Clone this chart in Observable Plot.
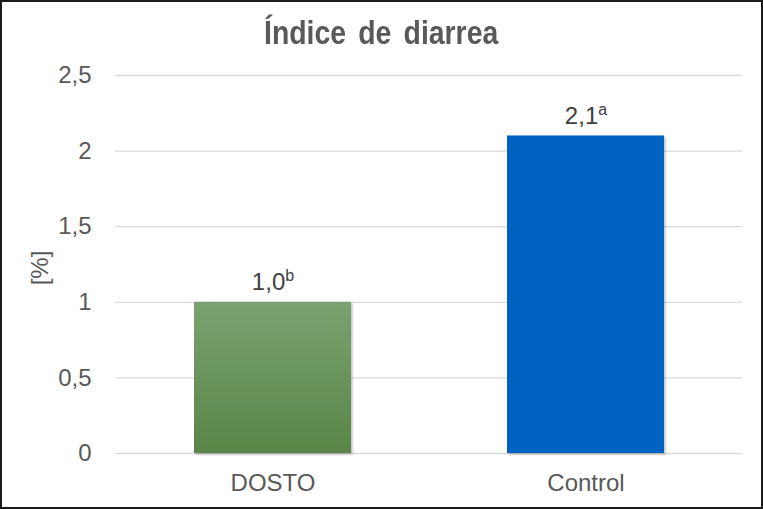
<!DOCTYPE html>
<html>
<head>
<meta charset="utf-8">
<script src="https://cdn.jsdelivr.net/npm/d3@7"></script>
<script src="https://cdn.jsdelivr.net/npm/@observablehq/plot@0.6"></script>
<style>
  html, body { margin: 0; padding: 0; background: #fff; }
  #frame {
    position: relative; width: 763px; height: 509px; box-sizing: border-box;
    border: 2px solid #1a1a1a; background: #fff; overflow: hidden;
  }
  #title {
    position: absolute; left: 0; right: 0; top: 13px; text-align: center;
    font-family: "Liberation Sans", Arial, sans-serif;
    font-weight: bold; font-size: 33px; color: #595959; line-height: 36px;
  }
  #title span { display: inline-block; transform: scaleX(0.86); word-spacing: 5px; }
  #ylabel {
    position: absolute; left: 38px; top: 266px; width: 0; height: 0;
  }
  #ylabel span {
    position: absolute; transform: translate(-50%, -50%) rotate(-90deg);
    font-family: "Liberation Sans", Arial, sans-serif; font-size: 24px; color: #595959; white-space: nowrap;
  }
  #chart { position: absolute; left: 0; top: 0; }
</style>
</head>
<body>
<div id="frame">
  <div id="title"><span>Índice de diarrea</span></div>
  <div id="chart"></div>
  <div id="ylabel"><span id="ylabeltext"></span></div>
</div>
<script>
const categories = ["DOSTO", "Control"];
const values = [1.0, 2.1];
const valueLabels = ["1,0", "2,1"];
const letters = ["b", "a"];
const yTicks = [0, 0.5, 1, 1.5, 2, 2.5];
const yTickLabels = ["0", "0,5", "1", "1,5", "2", "2,5"];
const yLabel = "[%]";

const data = categories.map((c, i) => ({cat: c, value: values[i], label: valueLabels[i], letter: letters[i]}));

const chart = Plot.plot({
  width: 759,
  height: 505,
  marginLeft: 113,
  marginRight: 19,
  marginTop: 73,
  marginBottom: 54,
  style: {
    fontFamily: "'Liberation Sans', Arial, sans-serif",
    fontSize: "24px",
    color: "#595959",
    background: "transparent",
    overflow: "visible"
  },
  x: {domain: categories, paddingInner: 0.5, paddingOuter: 0.25, label: null, tickSize: 0, tickPadding: 20},
  y: {
    domain: [0, 2.5], ticks: yTicks,
    tickFormat: d => yTickLabels[yTicks.indexOf(d)],
    tickSize: 0, tickPadding: 24,
    label: null
  },
  marks: [
    Plot.ruleY(yTicks, {stroke: "#d9d9d9", strokeWidth: 1.3}),
    Plot.barY(data, {filter: d => d.cat === "DOSTO", x: "cat", y: "value", fill: "url(#greenGrad)"}),
    Plot.barY(data, {filter: d => d.cat === "Control", x: "cat", y: "value", fill: "#0563c1"}),
    Plot.text(data, {x: "cat", y: "value", text: "label", dy: -12, lineAnchor: "bottom", fontSize: 24, fill: "#404040"})
  ]
});

const svg = d3.select(chart);
const defs = svg.insert("defs", ":first-child");
const grad = defs.append("linearGradient").attr("id", "greenGrad").attr("x1", 0).attr("y1", 0).attr("x2", 0).attr("y2", 1);
grad.append("stop").attr("offset", "0%").attr("stop-color", "#7aa270");
grad.append("stop").attr("offset", "100%").attr("stop-color", "#5a8548");
const f = defs.append("filter").attr("id", "shadow").attr("x", "-10%").attr("y", "-10%").attr("width", "130%").attr("height", "130%");
f.append("feDropShadow").attr("dx", 1.5).attr("dy", 1.5).attr("stdDeviation", 1.2).attr("flood-color", "#000").attr("flood-opacity", 0.25);
svg.selectAll('g[aria-label="bar"] rect').attr("filter", "url(#shadow)");

svg.selectAll('g[aria-label="text"] text').each(function() {
  const t = d3.select(this);
  const i = valueLabels.indexOf(t.text());
  if (i < 0) return;
  t.text(valueLabels[i]);
  t.append("tspan").attr("font-size", 16).attr("dy", -9).text(letters[i]);
});

document.getElementById("ylabeltext").textContent = yLabel;
document.getElementById("chart").appendChild(chart);
</script>
</body>
</html>
